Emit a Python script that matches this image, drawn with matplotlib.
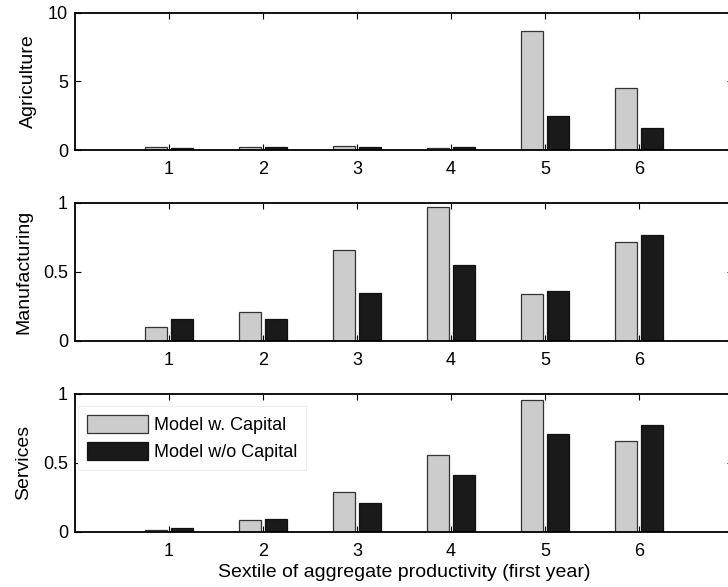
import numpy as np
import matplotlib.pyplot as plt
from matplotlib.ticker import FuncFormatter

plt.rcParams['font.family'] = ['Liberation Sans', 'DejaVu Sans']

sextiles = [1, 2, 3, 4, 5, 6]
sectors = ['Agriculture', 'Manufacturing', 'Services']

# model with capital (light bars) and without capital (dark bars)
agri_cap = [0.22, 0.20, 0.29, 0.15, 8.69, 4.54]
agri_nocap = [0.15, 0.20, 0.20, 0.20, 2.48, 1.63]
manu_cap = [0.100, 0.206, 0.658, 0.973, 0.340, 0.718]
manu_nocap = [0.153, 0.160, 0.342, 0.549, 0.359, 0.767]
serv_cap = [0.012, 0.085, 0.287, 0.560, 0.956, 0.659]
serv_nocap = [0.024, 0.092, 0.204, 0.409, 0.706, 0.771]

with_cap = [agri_cap, manu_cap, serv_cap]
without_cap = [agri_nocap, manu_nocap, serv_nocap]
ylims = [10, 1, 1]
yticks = [[0, 5, 10], [0, 0.5, 1], [0, 0.5, 1]]

W, H = 728, 587
fig = plt.figure(figsize=(W / 100, H / 100), dpi=100)

# axes geometry in pixels; the right edge runs slightly past the figure
left = 75
axw = 658
tops = [12.7, 203, 394]
ph = 137.5
tick_fs = 13
label_fs = 14

x = np.array(sextiles)
bw = 0.234
axes = []
for i, name in enumerate(sectors):
    ax = fig.add_axes([left / W, 1 - (tops[i] + ph) / H, axw / W, ph / H])
    ax.bar(x - 0.142, with_cap[i], bw, color='#cccccc', edgecolor='#333333',
           linewidth=0.9, label='Model w. Capital', zorder=2)
    ax.bar(x + 0.142, without_cap[i], bw, color='#1a1a1a', edgecolor='#111111',
           linewidth=0.9, label='Model w/o Capital', zorder=2)
    ax.set_xlim(0, 7)
    ax.set_ylim(0, ylims[i])
    ax.set_xticks(sextiles)
    ax.set_yticks(yticks[i])
    ax.yaxis.set_major_formatter(FuncFormatter(lambda v, p: f'{v:g}'))
    ax.tick_params(direction='in', length=4.5, width=0.8, top=True, right=True,
                   labelsize=tick_fs, colors='black')
    ax.tick_params(axis='x', pad=8)
    ax.tick_params(axis='y', pad=5)
    for s in ax.spines.values():
        s.set_linewidth(1.3)
        s.set_zorder(3)
    ax.set_ylabel(name, fontsize=label_fs, labelpad=8)
    axes.append(ax)

axes[2].set_xlabel('Sextile of aggregate productivity (first year)',
                   fontsize=label_fs, labelpad=3)

leg = axes[2].legend(loc='upper left', bbox_to_anchor=(3 / axw, 0.913),
                     fontsize=13, handlelength=3.38, handleheight=1.17,
                     handletextpad=0.33, borderpad=0.5, labelspacing=0.43,
                     fancybox=False, framealpha=1, borderaxespad=0)
leg.get_frame().set_edgecolor('#eeeeee')
leg.get_frame().set_linewidth(0.8)

fig.savefig('out.png', dpi=100)
